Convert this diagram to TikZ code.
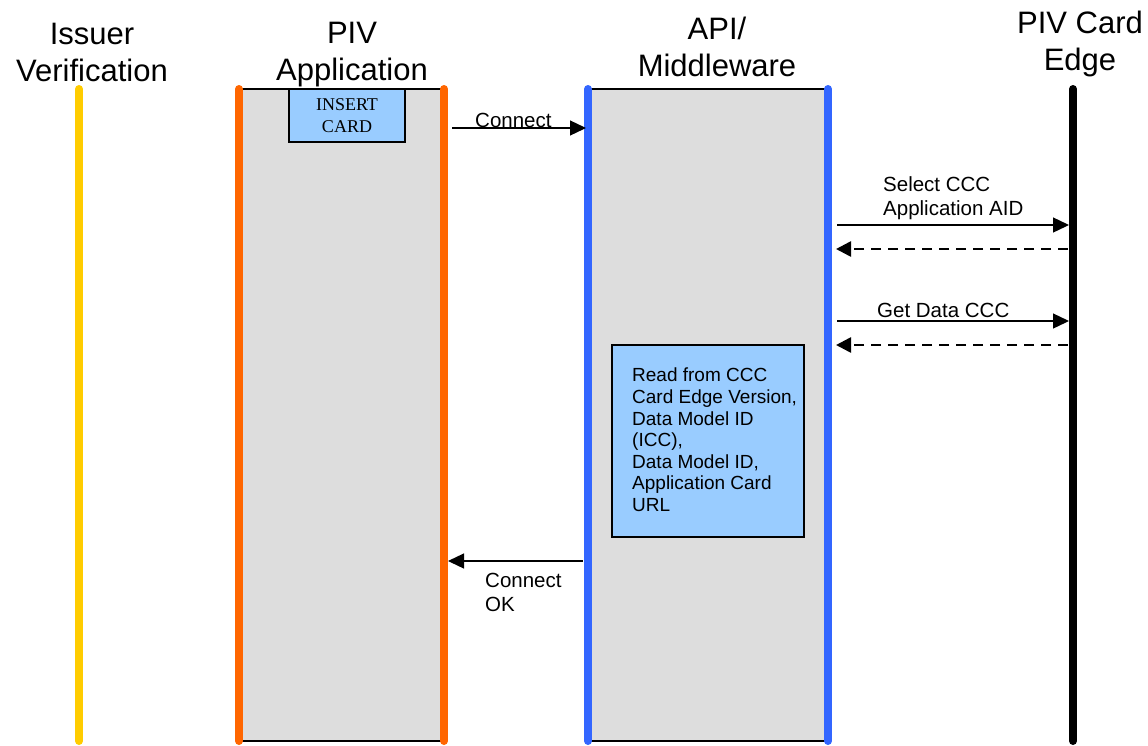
\documentclass[tikz,border=0pt]{standalone}
\usepackage{fontspec}
\setmainfont{Liberation Sans}
\newfontfamily\timesface{Liberation Serif}
\usetikzlibrary{arrows.meta}

\definecolor{colGray}{HTML}{DDDDDD}
\definecolor{noteBlue}{HTML}{99CCFF}
\definecolor{issuerYellow}{HTML}{FFCC00}
\definecolor{appOrange}{HTML}{FF6600}
\definecolor{mwBlue}{HTML}{3366FF}

\begin{document}
\begin{tikzpicture}[x=1pt,y=-1pt,
  lifeline/.style={line width=8pt, line cap=round},
  column/.style={fill=colGray, draw=black, line width=1.2pt},
  header/.style={align=center, anchor=base, inner sep=0pt,
    font=\fontsize{31}{37}\selectfont},
  note/.style={fill=noteBlue, draw=black, line width=1.3pt},
  lbl/.style={align=left, anchor=base west, inner sep=0pt,
    font=\fontsize{20.5}{23.5}\selectfont},
  msg/.style={line width=1.3pt, -{Triangle[length=16pt,width=15pt]}},
  reply/.style={line width=2.6pt, dash pattern=on 10pt off 7pt,
    -{Triangle[length=15pt,width=15pt]}}
]
\useasboundingbox (0,0) rectangle (1148,745);

% column backgrounds
\node[column, minimum width=205pt, minimum height=652pt, inner sep=0pt]
  (appcol) at (341.5,415) {};
\node[column, minimum width=240pt, minimum height=652pt, inner sep=0pt]
  (mwcol) at (708,415) {};

% lifelines
\coordinate (issT) at (79,89);   \coordinate (issB) at (79,741);
\coordinate (appLT) at (239,89); \coordinate (appLB) at (239,741);
\coordinate (appRT) at (444,89); \coordinate (appRB) at (444,741);
\coordinate (mwLT) at (588,89);  \coordinate (mwLB) at (588,741);
\coordinate (mwRT) at (828,89);  \coordinate (mwRB) at (828,741);
\coordinate (cardT) at (1073,89); \coordinate (cardB) at (1073,741);

\draw[lifeline, issuerYellow] (issT) -- (issB);
\draw[lifeline, appOrange] (appLT) -- (appLB);
\draw[lifeline, appOrange] (appRT) -- (appRB);
\draw[lifeline, mwBlue] (mwLT) -- (mwLB);
\draw[lifeline, mwBlue] (mwRT) -- (mwRB);
\draw[lifeline, black] (cardT) -- (cardB);

% headers (anchored on the baseline of their last line)
\node[header] (hIss) at (92,81.5) {Issuer\\Verification};
\node[header] (hApp) at (352,80.5) {PIV\\Application};
\node[header] (hMw) at (717,76) {API/\\Middleware};
\node[header] (hCard) at (1080,70) {PIV Card\\Edge};

% notes
\node[note, minimum width=116pt, minimum height=53pt, inner sep=0pt,
  align=center, font=\timesface\fontsize{18}{22}\selectfont]
  (insert) at (347,115.5) {INSERT\\CARD};
\node[note, minimum width=192pt, minimum height=192pt, inner sep=0pt]
  (readbox) at (708,441) {};
\node[align=left, anchor=north west, inner sep=0pt,
  font=\fontsize{19}{21.6}\selectfont] (readtxt) at (632,368)
  {Read from CCC\\Card Edge Version,\\Data Model ID\\(ICC),\\Data Model ID,\\Application Card\\URL};

% messages
\coordinate (c1a) at (452,128);  \coordinate (c1b) at (586,128);
\draw[msg] (c1a) -- (c1b);
\node[lbl] (lConnect) at (475,127) {Connect};

\coordinate (s1a) at (837,225);  \coordinate (s1b) at (1069,225);
\draw[msg] (s1a) -- (s1b);
\node[lbl] (lSelect) at (883,215) {Select CCC\\Application AID};

\coordinate (r1a) at (1068,249); \coordinate (r1b) at (836,249);
\draw[reply] (r1a) -- (r1b);

\coordinate (g1a) at (837,321);  \coordinate (g1b) at (1069,321);
\draw[msg] (g1a) -- (g1b);
\node[lbl] (lGet) at (877,317) {Get Data CCC};

\coordinate (r2a) at (1068,345); \coordinate (r2b) at (836,345);
\draw[reply] (r2a) -- (r2b);

\coordinate (k1a) at (583,561);  \coordinate (k1b) at (448,561);
\draw[msg] (k1a) -- (k1b);
\node[lbl] (lOk) at (485,611) {Connect\\OK};
\end{tikzpicture}
\end{document}
